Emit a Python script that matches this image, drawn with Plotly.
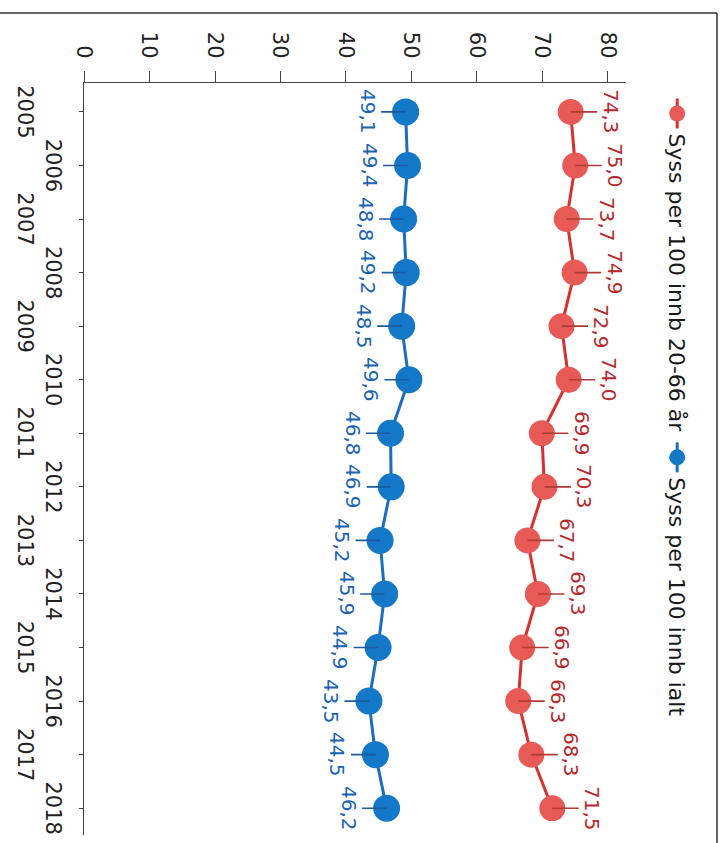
import plotly.graph_objects as go

# ---------------- data ----------------
years = [2005, 2006, 2007, 2008, 2009, 2010, 2011, 2012, 2013, 2014, 2015, 2016, 2017, 2018]
syss_20_66 = [74.3, 75.0, 73.7, 74.9, 72.9, 74.0, 69.9, 70.3, 67.7, 69.3, 66.9, 66.3, 68.3, 71.5]
syss_ialt = [49.1, 49.4, 48.8, 49.2, 48.5, 49.6, 46.8, 46.9, 45.2, 45.9, 44.9, 43.5, 44.5, 46.2]
name_20_66 = "Syss per 100 innb 20-66 år"
name_ialt = "Syss per 100 innb ialt"
value_ticks = [0, 10, 20, 30, 40, 50, 60, 70, 80]

# staggered year labels (odd years on the outer row)
year_text = [("<br>" + str(y)) if i % 2 == 0 else str(y) for i, y in enumerate(years)]

FONT = "DejaVu Sans"
RED_LINE, RED_MARK, RED_TXT = "#d8302f", "#e85a55", "#b8282a"
BLUE_LINE, BLUE_MARK, BLUE_TXT = "#1a6ebf", "#1478c8", "#1a64b4"

W, H = 843, 725
ML, MR, MT, MB = 83, 8, 99, 84

fig = go.Figure()
fig.add_trace(go.Scatter(
    x=years, y=syss_20_66, name=name_20_66, mode="lines+markers",
    line=dict(color=RED_LINE, width=3),
    marker=dict(color=RED_MARK, size=26, line=dict(width=0)),
    hoverinfo="skip",
))
fig.add_trace(go.Scatter(
    x=years, y=syss_ialt, name=name_ialt, mode="lines+markers",
    line=dict(color=BLUE_LINE, width=3),
    marker=dict(color=BLUE_MARK, size=27, line=dict(width=0)),
    hoverinfo="skip",
))

def fmt(v):
    return f"{v:.1f}".replace(".", ",")

annotations = []
for x, v in zip(years, syss_20_66):
    annotations.append(dict(
        x=x, y=v, xref="x", yref="y", text=fmt(v), showarrow=True,
        arrowhead=0, arrowwidth=1.6, arrowcolor="#b03a36", ax=0, ay=-40,
        font=dict(family=FONT, size=20, color=RED_TXT),
    ))
for x, v in zip(years, syss_ialt):
    annotations.append(dict(
        x=x, y=v, xref="x", yref="y", text=fmt(v), showarrow=True,
        arrowhead=0, arrowwidth=1.6, arrowcolor="#1f5a9c", ax=0, ay=38,
        font=dict(family=FONT, size=20, color=BLUE_TXT),
    ))

pw = W - ML - MR
ph = H - MT - MB
shapes = [
    # outer frame (left and top edges of the original chart)
    dict(type="line", xref="paper", yref="paper",
         x0=(13 - ML) / pw, x1=(W - ML) / pw + 0.05,
         y0=(H - MB - 8) / ph, y1=(H - MB - 8) / ph,
         line=dict(color="#333333", width=1.5)),
    dict(type="line", xref="paper", yref="paper",
         x0=(13 - ML) / pw, x1=(13 - ML) / pw,
         y0=(H - MB - 8) / ph, y1=-MB / ph - 0.05,
         line=dict(color="#333333", width=1.5)),
]

fig.update_layout(
    width=W, height=H,
    margin=dict(l=ML, r=MR, t=MT, b=MB, pad=0),
    paper_bgcolor="white", plot_bgcolor="white",
    font=dict(family=FONT, size=20, color="#222222"),
    showlegend=True,
    legend=dict(orientation="h", x=0.014, xanchor="left", y=(H - MB - 48) / ph, yanchor="middle",
                font=dict(family=FONT, size=22, color="#1a1a1a"),
                bgcolor="rgba(0,0,0,0)", itemwidth=30, tracegroupgap=0),
    annotations=annotations,
    shapes=shapes,
    xaxis=dict(
        range=[2004.46, 2018.5], tickmode="array", tickvals=years, ticktext=year_text,
        tickangle=0, ticklabelstandoff=8,
        showgrid=False, zeroline=False, showline=True, linecolor="#444444", linewidth=1.2,
        ticks="outside", ticklen=4, tickcolor="#444444",
        tickfont=dict(family=FONT, size=21, color="#222222"),
        fixedrange=True,
    ),
    yaxis=dict(
        range=[0, 82.75], tickmode="array", tickvals=value_ticks,
        ticktext=[str(v) for v in value_ticks],
        tickangle=0, ticklabelstandoff=8,
        showgrid=False, zeroline=False, showline=True, linecolor="#444444", linewidth=1.2,
        ticks="outside", ticklen=11, tickcolor="#444444",
        tickfont=dict(family=FONT, size=21, color="#222222"),
        fixedrange=True,
    ),
)

# the reference is the chart turned a quarter turn clockwise on the page
post = """
var gd = document.getElementById('{plot_id}');
document.documentElement.style.margin='0';
document.body.style.margin='0';
document.body.style.overflow='hidden';
document.documentElement.style.overflow='hidden';
gd.style.position='absolute';
gd.style.left='0px';
gd.style.top='0px';
gd.style.transformOrigin='0 0';
gd.style.transform='translate(725px,0px) rotate(90deg)';
"""

fig.write_html("out.html", post_script=post, config={"displayModeBar": False, "staticPlot": True})
